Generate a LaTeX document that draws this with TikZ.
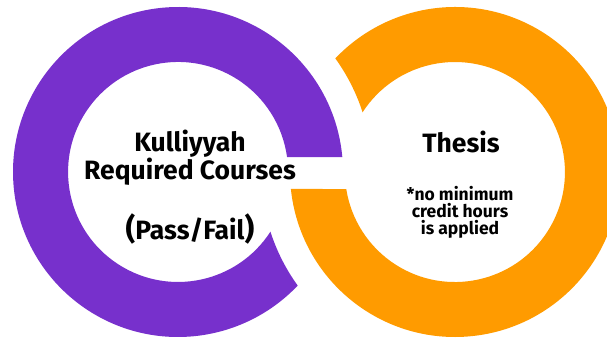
\documentclass[tikz,border=0pt]{standalone}
\usepackage{fontspec}
\setmainfont{Fira Sans}
\definecolor{ringpurple}{RGB}{119,48,204}
\definecolor{ringorange}{RGB}{255,155,0}
\begin{document}
\begin{tikzpicture}[x=1pt,y=1pt,
    bigtext/.style={font=\bfseries\fontsize{26.5}{28}\selectfont,align=center,anchor=base,inner sep=0pt},
    smalltext/.style={font=\bfseries\fontsize{17.5}{17}\selectfont,align=center,anchor=base,inner sep=0pt}]
  \useasboundingbox (0,0) rectangle (607,339);
  \coordinate (pc) at (178,167);
  \coordinate (oc) at (455,167);
  % purple ring, cut where the orange one passes over it
  \fill[ringpurple] ([shift={(5.2:165pt)}]pc) arc[start angle=5.2,end angle=316.5,radius=165pt]
    arc[start angle=215.8,end angle=197.9,radius=194pt]
    arc[start angle=327.1,end angle=7.8,radius=110pt] -- cycle;
  % orange ring, cut where the purple one passes over it
  \fill[ringorange] ([shift={(185.9:165pt)}]oc) arc[start angle=185.9,end angle=496.5,radius=165pt]
    arc[start angle=35.8,end angle=17.9,radius=194pt]
    arc[start angle=507.1,end angle=188.9,radius=110pt] -- cycle;
  \node[bigtext] (kul)    at (190,159) {Kulliyyah\\Required Courses};
  \node[bigtext] (pf)     at (190,99) {{\fontsize{30}{30}\selectfont(}Pass/Fail{\fontsize{30}{30}\selectfont)}};
  \node[bigtext] (thesis) at (461,186) {Thesis};
  \node[smalltext] (note) at (460,104) {*no minimum\\credit hours\\is applied};
\end{tikzpicture}
\end{document}
